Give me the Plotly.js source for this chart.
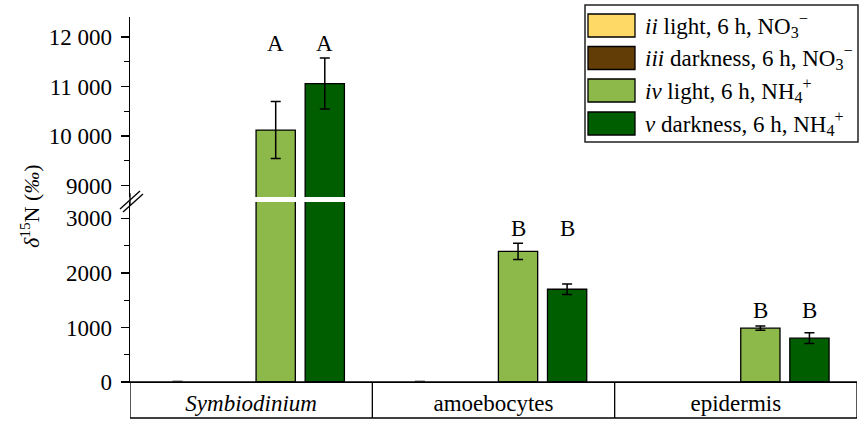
<!DOCTYPE html>
<html>
<head>
<meta charset="utf-8">
<script src="https://cdn.plot.ly/plotly-3.0.1.min.js"></script>
<style>
html,body{margin:0;padding:0;background:#fff;}
#chart{width:865px;height:428px;}
#chart svg text{font-family:'Liberation Serif','Times New Roman','DejaVu Serif',serif !important;}
</style>
</head>
<body>
<div id="chart"></div>
<script>
// ---- data ----
const categories = ['Symbiodinium', 'amoebocytes', 'epidermis'];
const categoryLabels = ['<i>Symbiodinium</i>', 'amoebocytes', 'epidermis'];
const seriesNames = [
  '<i>ii</i> light, 6 h, NO<sub>3</sub><sup>−</sup>',
  '<i>iii</i> darkness, 6 h, NO<sub>3</sub><sup>−</sup>',
  '<i>iv</i> light, 6 h, NH<sub>4</sub><sup>+</sup>',
  '<i>v</i> darkness, 6 h, NH<sub>4</sub><sup>+</sup>'
];
const no3Light = [0, 0, null];
const no3LightErr = [15, 15, null];
const no3Dark = [null, null, null];
const no3DarkErr = [null, null, null];
const nh4Light = [10120, 2395, 987];
const nh4LightErr = [575, 150, 40];
const nh4Dark = [11060, 1700, 804];
const nh4DarkErr = [515, 95, 100];
const lettersLight = ['A', 'B', 'B'];
const lettersDark = ['A', 'B', 'B'];
const lowerTicks = [0, 1000, 2000, 3000];
const lowerTickText = ['0', '1000', '2000', '3000'];
const upperTicks = [9000, 10000, 11000, 12000];
const upperTickText = ['9000', '10 000', '11 000', '12 000'];

// ---- style ----
const colors = ['#FFD966', '#633D06', '#8DB94A', '#005E00'];
const FONT = 'Liberation Serif';
const FS = 23;
const LW = 1.3;
const bargap = 0.19;
const W = 865, H = 428;
const M = {l: 130, r: 8, t: 17, b: 46};
const plotW = W - M.l - M.r, plotH = H - M.t - M.b;
const px2x = p => (p - M.l) / plotW;
const px2y = p => (H - M.b - p) / plotH;
const breakLow = px2y(202), breakHigh = px2y(197);
const tableBottom = px2y(418);

const seriesVals = [no3Light, no3Dark, nh4Light, nh4Dark];
const seriesErrs = [no3LightErr, no3DarkErr, nh4LightErr, nh4DarkErr];

const traces = [];
['y', 'y2'].forEach(ax => {
  seriesVals.forEach((vals, i) => {
    traces.push({
      type: 'bar', x: categories, y: vals, yaxis: ax, xaxis: 'x',
      name: seriesNames[i], showlegend: false,
      marker: {color: colors[i], line: {color: 'black', width: i < 2 ? 0 : LW}},
      error_y: {type: 'data', array: seriesErrs[i], visible: true, color: i < 2 ? '#777' : 'black', thickness: 1.5, width: 5},
      hoverinfo: 'skip'
    });
  });
});

const annotations = [];
// y-axis title
annotations.push({
  xref: 'paper', yref: 'paper', x: px2x(30), y: px2y(206), xanchor: 'center', yanchor: 'middle',
  textangle: -90, showarrow: false,
  text: '<i>δ</i><sup>15</sup>N (<i>‰</i>)', font: {family: FONT, size: 22, color: 'black'}
});
// significance letters
const slot = (1 - bargap) / 4;
categories.forEach((c, i) => {
  const top = Math.max(nh4Light[i] + nh4LightErr[i], nh4Dark[i] + nh4DarkErr[i]);
  const ax = top > 5000 ? 'y2' : 'y';
  [[lettersLight[i], 0.5 * slot], [lettersDark[i], 1.5 * slot]].forEach(([t, off]) => {
    annotations.push({
      xref: 'x', yref: ax, x: i + off, y: top, yshift: 15, xanchor: 'center', yanchor: 'middle',
      showarrow: false, text: t, font: {family: FONT, size: FS, color: 'black'}
    });
  });
});

const shapes = [];
// category table
shapes.push({type: 'rect', xref: 'x', yref: 'paper', x0: -0.5, x1: 2.5, y0: tableBottom, y1: 0,
  line: {color: 'black', width: LW}});
[0.5, 1.5].forEach(v => shapes.push({type: 'line', xref: 'x', yref: 'paper', x0: v, x1: v, y0: tableBottom, y1: 0,
  line: {color: 'black', width: LW}}));
// continuous left axis line across the break
shapes.push({type: 'line', xref: 'paper', yref: 'paper', x0: 0, x1: 0, y0: breakLow - 0.01, y1: breakHigh + 0.01,
  line: {color: 'black', width: LW}});
// break marks
[[120, 209, 140, 191], [123, 212, 143, 194]].forEach(([a, b, c, d]) => shapes.push({
  type: 'line', xref: 'paper', yref: 'paper', x0: px2x(a), y0: px2y(b), x1: px2x(c), y1: px2y(d),
  line: {color: 'black', width: 1.3}}));
// legend box
shapes.push({type: 'rect', xref: 'paper', yref: 'paper', x0: px2x(585), x1: px2x(858), y0: px2y(142), y1: px2y(5),
  line: {color: '#222', width: 1.5}, fillcolor: 'white', layer: 'above'});
const rowC = [25.5, 58, 90.5, 123.5];
seriesNames.forEach((n, i) => {
  shapes.push({type: 'rect', xref: 'paper', yref: 'paper', x0: px2x(588), x1: px2x(635),
    y0: px2y(rowC[i] + 11.5), y1: px2y(rowC[i] - 11.5), fillcolor: colors[i],
    line: {color: 'black', width: LW}, layer: 'above'});
  annotations.push({xref: 'paper', yref: 'paper', x: px2x(643), y: px2y(rowC[i]), xanchor: 'left', yanchor: 'middle',
    showarrow: false, text: n, font: {family: FONT, size: FS, color: 'black'}});
});

const yCommon = {
  showline: true, linecolor: 'black', linewidth: LW, showgrid: false, zeroline: false,
  ticks: 'outside', ticklen: 8, tickwidth: LW, tickcolor: 'black',
  tickmode: 'array', tickfont: {family: FONT, size: FS, color: 'black'}, ticklabelstandoff: 4,
  minor: {ticks: 'outside', ticklen: 4.5, tickwidth: LW, tickcolor: 'black', dtick: 500, tick0: 0, showgrid: false},
  fixedrange: true
};

const layout = {
  width: W, height: H, margin: M,
  paper_bgcolor: 'white', plot_bgcolor: 'white',
  font: {family: FONT, size: FS, color: 'black'},
  barmode: 'group', bargap: bargap, bargroupgap: 0.2,
  showlegend: false,
  xaxis: {type: 'category', range: [-0.5, 2.5], showline: true, linecolor: 'black', linewidth: LW,
    ticks: '', tickmode: 'array', tickvals: categories, ticktext: categoryLabels,
    tickfont: {family: FONT, size: FS, color: 'black'}, ticklabelstandoff: 0,
    showgrid: false, zeroline: false, anchor: 'y', fixedrange: true},
  yaxis: Object.assign({}, yCommon, {domain: [0, breakLow], range: [0, 3300],
    tickvals: lowerTicks, ticktext: lowerTickText, anchor: 'x'}),
  yaxis2: Object.assign({}, yCommon, {domain: [breakHigh, 1], range: [8768, 12404],
    tickvals: upperTicks, ticktext: upperTickText, anchor: 'x'}),
  shapes: shapes, annotations: annotations
};

Plotly.newPlot('chart', traces, layout, {displayModeBar: false, staticPlot: true});
</script>
</body>
</html>
